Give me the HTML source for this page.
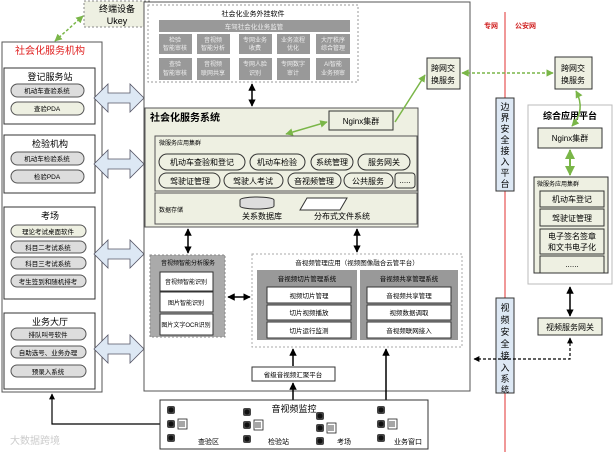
<!DOCTYPE html>
<html><head><meta charset="utf-8"><style>
html,body{margin:0;padding:0;background:#fff;}
svg{display:block;font-family:"Liberation Sans","Noto Sans CJK SC",sans-serif;}
</style></head><body>
<svg width="615" height="452" viewBox="0 0 615 452" xmlns="http://www.w3.org/2000/svg">
<defs>
<marker id="ab" viewBox="0 0 10 10" refX="9" refY="5" markerWidth="5" markerHeight="5" orient="auto-start-reverse"><path d="M0,0 L10,5 L0,10 z" fill="#000"/></marker>
<marker id="ag" viewBox="0 0 10 10" refX="9" refY="5" markerWidth="5" markerHeight="5" orient="auto-start-reverse"><path d="M0,0 L10,5 L0,10 z" fill="#7ab648"/></marker>
<g id="dbl"><path d="M0,14 L14,0 L14,9 L36,9 L36,0 L50,14 L36,28 L36,19 L14,19 L14,28 z" fill="#dde8f4" stroke="#556" stroke-width="0.8"/></g>
<g id="cam"><rect x="-4" y="-4" width="8" height="8" rx="2" fill="#444"/><circle r="2.5" fill="#111"/></g>
<g id="dvr"><rect x="0" y="-5" width="9" height="10" fill="#fff" stroke="#222" stroke-width="0.8"/><path d="M2,-3v6M4,-3v6M6,-3v6" stroke="#222" stroke-width="0.8"/></g>
</defs>

<rect x="84" y="1" width="66" height="26" fill="#eef0e2" stroke="#888" stroke-dasharray="2,2"/>
<text x="117" y="12" font-size="9" text-anchor="middle">终端设备</text>
<text x="117" y="24" font-size="9" text-anchor="middle">Ukey</text>
<line x1="55" y1="41" x2="83" y2="16" stroke="#7ab648" stroke-width="1.5" stroke-dasharray="3,2" marker-start="url(#ag)" marker-end="url(#ag)"/>

<rect x="2" y="42" width="100" height="350" fill="#fff" stroke="#555"/>
<text x="50" y="54" font-size="10" fill="#e02020" text-anchor="middle">社会化服务机构</text>
<g font-size="6.5" text-anchor="middle">
<rect x="4" y="68" width="91" height="56" fill="#fff" stroke="#333"/>
<text x="50" y="80" font-size="9">登记服务站</text>
<rect x="11" y="84" width="73" height="13" rx="6.5" fill="#ddd" stroke="#555"/><text x="47" y="93">机动车查验系统</text>
<rect x="11" y="102" width="73" height="13" rx="6.5" fill="#eef0e2" stroke="#555"/><text x="47" y="111">查验PDA</text>
<rect x="4" y="135" width="91" height="58" fill="#fff" stroke="#333"/>
<text x="50" y="147" font-size="9">检验机构</text>
<rect x="11" y="152" width="73" height="13" rx="6.5" fill="#ddd" stroke="#555"/><text x="47" y="161">机动车检验系统</text>
<rect x="11" y="170" width="73" height="13" rx="6.5" fill="#ddd" stroke="#555"/><text x="47" y="179">检验PDA</text>
<rect x="4" y="207" width="91" height="92" fill="#fff" stroke="#333"/>
<text x="50" y="219" font-size="9">考场</text>
<rect x="11" y="225" width="75" height="12" rx="6" fill="#eef0e2" stroke="#555"/><text x="48" y="234">理论考试桌面软件</text>
<rect x="11" y="241" width="75" height="12" rx="6" fill="#ddd" stroke="#555"/><text x="48" y="250">科目二考试系统</text>
<rect x="11" y="257" width="75" height="12" rx="6" fill="#ddd" stroke="#555"/><text x="48" y="266">科目三考试系统</text>
<rect x="11" y="275" width="75" height="12" rx="6" fill="#ddd" stroke="#555"/><text x="48" y="284">考生签到和随机排考</text>
<rect x="4" y="313" width="91" height="76" fill="#fff" stroke="#333"/>
<text x="50" y="325" font-size="9">业务大厅</text>
<rect x="11" y="328" width="75" height="12" rx="6" fill="#ddd" stroke="#555"/><text x="48" y="337">排队叫号软件</text>
<rect x="11" y="346" width="75" height="12" rx="6" fill="#ddd" stroke="#555"/><text x="48" y="355">自助选号、业务办理</text>
<rect x="11" y="365" width="75" height="12" rx="6" fill="#ddd" stroke="#555"/><text x="48" y="374">预录入系统</text>
</g>
<use href="#dbl" x="94" y="84"/>
<use href="#dbl" x="94" y="150"/>
<use href="#dbl" x="94" y="240"/>
<use href="#dbl" x="94" y="335"/>
<polyline points="160,424 52,424 52,394" fill="none" stroke="#000" stroke-width="1.2" marker-end="url(#ab)"/>
<text x="10" y="444" font-size="10" fill="#ccc">大数据跨境</text>

<rect x="144" y="2" width="326" height="389" fill="#fff" stroke="#555"/>
<rect x="148" y="5" width="210" height="77" fill="#fff" stroke="#999" stroke-dasharray="2,2"/>
<text x="253" y="16" font-size="7" text-anchor="middle">社会化业务外挂软件</text>
<rect x="159" y="20" width="191" height="12" fill="#999"/>
<text x="254" y="29" font-size="6.5" fill="#eee" text-anchor="middle">车驾社会化业务监管</text>
<g font-size="6" fill="#eee" text-anchor="middle">
<rect x="159" y="34" width="33" height="20" fill="#999"/><text x="175" y="42">检验</text><text x="175" y="50">智能审核</text>
<rect x="197" y="34" width="33" height="20" fill="#999"/><text x="213" y="42">音视频</text><text x="213" y="50">智能分析</text>
<rect x="239" y="34" width="33" height="20" fill="#999"/><text x="255" y="42">专网业务</text><text x="255" y="50">收费</text>
<rect x="277" y="34" width="33" height="20" fill="#999"/><text x="293" y="42">业务流程</text><text x="293" y="50">优化</text>
<rect x="316" y="34" width="34" height="20" fill="#999"/><text x="333" y="42">大厅秩序</text><text x="333" y="50">综合管理</text>
<rect x="159" y="58" width="33" height="22" fill="#999"/><text x="175" y="66">查验</text><text x="175" y="75">智能审核</text>
<rect x="197" y="58" width="33" height="22" fill="#999"/><text x="213" y="66">音视频</text><text x="213" y="75">联网共享</text>
<rect x="239" y="58" width="33" height="22" fill="#999"/><text x="255" y="66">专网人脸</text><text x="255" y="75">识别</text>
<rect x="277" y="58" width="33" height="22" fill="#999"/><text x="293" y="66">专网数字</text><text x="293" y="75">审计</text>
<rect x="316" y="58" width="34" height="22" fill="#999"/><text x="333" y="66">AI智能</text><text x="333" y="75">业务预审</text>
</g>
<line x1="252" y1="84" x2="252" y2="106" stroke="#000" stroke-width="1.5" marker-start="url(#ab)" marker-end="url(#ab)"/>

<rect x="145" y="108" width="273" height="119" fill="#eef0e2" stroke="#555"/>
<text x="150" y="121" font-size="10" font-weight="bold">社会化服务系统</text>
<rect x="329" y="111" width="64" height="19" fill="#eef0e2" stroke="#333"/>
<text x="361" y="124" font-size="8" text-anchor="middle">Nginx集群</text>
<line x1="286" y1="134" x2="327" y2="122" stroke="#7ab648" stroke-width="1.5" marker-start="url(#ag)" marker-end="url(#ag)"/>
<rect x="155" y="136" width="262" height="55" fill="#eef0e2" stroke="#555"/>
<text x="159" y="145" font-size="6">微服务应用集群</text>
<g font-size="8" text-anchor="middle" fill="#eef0e2" stroke="#333">
<rect x="159" y="154" width="86" height="16" rx="8"/><rect x="250" y="154" width="55" height="16" rx="8"/><rect x="311" y="154" width="42" height="16" rx="8"/><rect x="358" y="154" width="52" height="16" rx="8"/>
<rect x="159" y="173" width="61" height="15" rx="7.5"/><rect x="224" y="173" width="59" height="15" rx="7.5"/><rect x="288" y="173" width="53" height="15" rx="7.5"/><rect x="344" y="173" width="49" height="15" rx="7.5"/><rect x="395" y="173" width="20" height="15" rx="3"/>
</g>
<g font-size="8" text-anchor="middle">
<text x="202" y="165">机动车查验和登记</text><text x="277" y="165">机动车检验</text><text x="332" y="165">系统管理</text><text x="384" y="165">服务网关</text>
<text x="190" y="184">驾驶证管理</text><text x="253" y="184">驾驶人考试</text><text x="314" y="184">音视频管理</text><text x="368" y="184">公共服务</text><text x="405" y="183">.....</text>
</g>
<rect x="155" y="193" width="262" height="31" fill="#eef0e2" stroke="#555"/>
<text x="159" y="212" font-size="6">数据存储</text>
<ellipse cx="257" cy="200" rx="17" ry="3" fill="#ddd" stroke="#333"/>
<path d="M240,200 v6 a17,3 0 0 0 34,0 v-6" fill="#ddd" stroke="#333"/>
<text x="262" y="219" font-size="8" text-anchor="middle">关系数据库</text>
<path d="M307,198 L347,198 L340,210 L300,210 z" fill="#fff" stroke="#333"/>
<text x="342" y="219" font-size="8" text-anchor="middle">分布式文件系统</text>

<line x1="188" y1="229" x2="188" y2="253" stroke="#000" stroke-width="1.5" marker-start="url(#ab)" marker-end="url(#ab)"/>
<line x1="357" y1="229" x2="357" y2="252" stroke="#000" stroke-width="1.5" marker-start="url(#ab)" marker-end="url(#ab)"/>

<rect x="150" y="255" width="75" height="82" fill="#aaa" stroke="#888" stroke-dasharray="2,2"/>
<text x="188" y="265" font-size="6" text-anchor="middle">音视频智能分析服务</text>
<g font-size="6" text-anchor="middle">
<rect x="160" y="272" width="53" height="19" fill="#fff" stroke="#333"/><text x="186" y="284">音视频智能识别</text>
<rect x="160" y="292" width="53" height="20" fill="#fff" stroke="#333"/><text x="186" y="305">图片智能识别</text>
<rect x="160" y="314" width="53" height="21" fill="#fff" stroke="#333"/><text x="186" y="327">图片文字OCR识别</text>
</g>
<line x1="228" y1="297" x2="250" y2="297" stroke="#000" stroke-width="1.5" marker-start="url(#ab)" marker-end="url(#ab)"/>
<rect x="252" y="254" width="210" height="93" fill="#fff" stroke="#aaa" stroke-dasharray="2,2"/>
<text x="357" y="265" font-size="6.5" text-anchor="middle">音视频管理应用（视频图像融合云管平台）</text>
<rect x="257" y="270" width="100" height="70" fill="#999"/>
<rect x="360" y="270" width="98" height="70" fill="#999"/>
<g font-size="6.5" text-anchor="middle">
<text x="307" y="281">音视频切片管理系统</text>
<text x="409" y="281">音视频共享管理系统</text>
<rect x="267" y="287" width="84" height="16" fill="#fff" stroke="#333"/><text x="309" y="298">视频切片管理</text>
<rect x="267" y="305" width="84" height="15" fill="#fff" stroke="#333"/><text x="309" y="315">切片视频播放</text>
<rect x="267" y="322" width="84" height="16" fill="#fff" stroke="#333"/><text x="309" y="333">切片运行监测</text>
<rect x="367" y="287" width="84" height="16" fill="#fff" stroke="#333"/><text x="409" y="298">音视频共享管理</text>
<rect x="367" y="305" width="84" height="15" fill="#fff" stroke="#333"/><text x="409" y="315">视频数据调取</text>
<rect x="367" y="322" width="84" height="16" fill="#fff" stroke="#333"/><text x="409" y="333">音视频联网接入</text>
<rect x="252" y="367" width="83" height="14" fill="#fff" stroke="#333"/><text x="293" y="377">省级音视频汇聚平台</text>
</g>
<line x1="293" y1="366" x2="293" y2="349" stroke="#000" stroke-width="1.5" marker-end="url(#ab)"/>
<line x1="293" y1="400" x2="293" y2="383" stroke="#000" stroke-width="1.5" marker-end="url(#ab)"/>
<line x1="386" y1="400" x2="386" y2="349" stroke="#000" stroke-width="1.5" marker-end="url(#ab)"/>

<rect x="160" y="400" width="268" height="49" fill="#fff" stroke="#333"/>
<text x="294" y="412" font-size="9" text-anchor="middle">音视频监控</text>
<g>
<use href="#cam" x="171" y="410"/><use href="#cam" x="171" y="424"/><use href="#cam" x="171" y="438"/><use href="#dvr" x="178" y="424"/>
<use href="#cam" x="247" y="412"/><use href="#cam" x="247" y="425"/><use href="#cam" x="247" y="439"/><use href="#dvr" x="254" y="425"/>
<use href="#cam" x="320" y="416"/><use href="#cam" x="320" y="428"/><use href="#cam" x="320" y="441"/><use href="#dvr" x="327" y="428"/>
<use href="#cam" x="381" y="410"/><use href="#cam" x="381" y="424"/><use href="#cam" x="381" y="438"/><use href="#dvr" x="388" y="424"/>
</g>
<g font-size="7">
<text x="198" y="444">查验区</text><text x="268" y="444">检验站</text><text x="337" y="444">考场</text><text x="394" y="444">业务窗口</text>
</g>

<rect x="427" y="58" width="33" height="31" fill="#eef0e2" stroke="#333"/>
<text x="443" y="71" font-size="8" text-anchor="middle">跨网交</text><text x="443" y="83" font-size="8" text-anchor="middle">换服务</text>
<line x1="395" y1="122" x2="425" y2="75" stroke="#7ab648" stroke-width="1.5" marker-end="url(#ag)"/>
<line x1="505" y1="12" x2="505" y2="452" stroke="#e03030" stroke-width="1"/>
<text x="484" y="28" font-size="7" fill="#d02020" font-weight="bold">专网</text>
<text x="515" y="28" font-size="7" fill="#d02020" font-weight="bold">公安网</text>
<line x1="462" y1="73" x2="553" y2="73" stroke="#7ab648" stroke-width="1.5" stroke-dasharray="3,2" marker-start="url(#ag)" marker-end="url(#ag)"/>
<rect x="496" y="98" width="18" height="93" fill="#dde8f4" stroke="#333"/>
<g font-size="9" text-anchor="middle"><text x="505" y="110">边</text><text x="505" y="121">界</text><text x="505" y="132">安</text><text x="505" y="143">全</text><text x="505" y="154">接</text><text x="505" y="165">入</text><text x="505" y="176">平</text><text x="505" y="187">台</text></g>
<rect x="496" y="298" width="18" height="95" fill="#dde8f4" stroke="#333"/>
<g font-size="9" text-anchor="middle"><text x="505" y="311">视</text><text x="505" y="323">频</text><text x="505" y="335">安</text><text x="505" y="347">全</text><text x="505" y="359">接</text><text x="505" y="371">入</text><text x="505" y="382">系</text><text x="505" y="392" font-size="8">统</text></g>

<rect x="555" y="57" width="37" height="32" fill="#eef0e2" stroke="#333"/>
<text x="573" y="71" font-size="8" text-anchor="middle">跨网交</text><text x="573" y="83" font-size="8" text-anchor="middle">换服务</text>
<rect x="528" y="105" width="84" height="179" fill="#fff" stroke="#bbb"/>
<text x="570" y="119" font-size="9" font-weight="bold" text-anchor="middle">综合应用平台</text>
<path d="M576,91 Q586,110 572,126" fill="none" stroke="#7ab648" stroke-width="1.5" marker-start="url(#ag)" marker-end="url(#ag)"/>
<rect x="538" y="128" width="64" height="20" fill="#eef0e2" stroke="#333"/>
<text x="570" y="141" font-size="8" text-anchor="middle">Nginx集群</text>
<line x1="570" y1="150" x2="570" y2="175" stroke="#7ab648" stroke-width="2" marker-start="url(#ag)" marker-end="url(#ag)"/>
<rect x="534" y="177" width="74" height="96" fill="#eef0e2" stroke="#333"/>
<text x="537" y="186" font-size="6">微服务应用集群</text>
<g font-size="8" text-anchor="middle">
<rect x="540" y="191" width="64" height="16" fill="#eef0e2" stroke="#333"/><text x="572" y="202">机动车登记</text>
<rect x="540" y="209" width="64" height="17" fill="#eef0e2" stroke="#333"/><text x="572" y="221">驾驶证管理</text>
<rect x="540" y="229" width="64" height="25" fill="#eef0e2" stroke="#333"/><text x="572" y="239">电子签名签章</text><text x="572" y="250">和文书电子化</text>
<rect x="540" y="256" width="64" height="17" fill="#eef0e2" stroke="#333"/><text x="572" y="267">......</text>
</g>
<line x1="570" y1="287" x2="570" y2="316" stroke="#000" stroke-width="1.5" marker-start="url(#ab)" marker-end="url(#ab)"/>
<rect x="538" y="318" width="64" height="17" fill="#eef0e2" stroke="#333"/>
<text x="570" y="330" font-size="8" text-anchor="middle">视频服务网关</text>
<polyline points="570,338 570,359 474,359" fill="none" stroke="#000" stroke-width="1.2" stroke-dasharray="3,2" marker-start="url(#ab)" marker-end="url(#ab)"/>
</svg>
</body></html>
